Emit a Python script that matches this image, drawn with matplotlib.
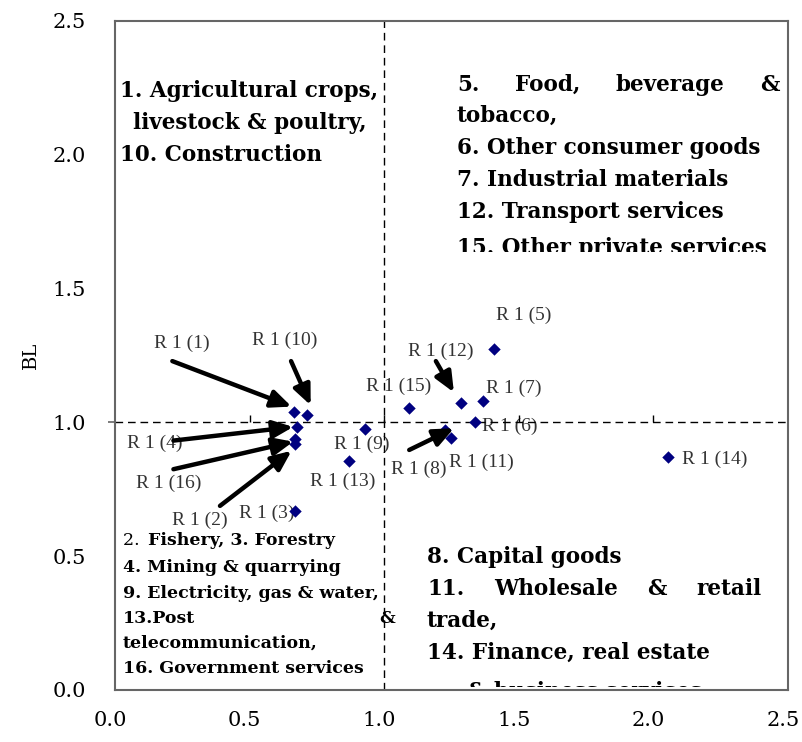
import matplotlib.pyplot as plt
import numpy as np
from matplotlib.patches import Rectangle
from matplotlib.transforms import Bbox, TransformedBbox, ScaledTranslation

# sector number, FL (x) and BL (y)
sectors = [1, 2, 3, 4, 5, 6, 7, 8, 9, 10, 11, 12, 13, 14, 15, 16]
fl = [0.665, 0.668, 0.668, 0.675, 1.408, 1.338, 1.368, 1.227,
      0.930, 0.714, 1.248, 1.286, 0.868, 2.054, 1.091, 0.668]
bl = [1.040, 0.919, 0.668, 0.982, 1.275, 1.000, 1.081, 0.972,
      0.974, 1.027, 0.942, 1.071, 0.856, 0.870, 1.053, 0.937]
ticks = [0.0, 0.5, 1.0, 1.5, 2.0, 2.5]

# where each "R1(n)" label sits (centre, data units)
lab_pos = {1: (0.248, 1.296), 2: (0.316, 0.633), 3: (0.564, 0.660),
           4: (0.149, 0.922), 5: (1.520, 1.399), 6: (1.467, 0.987),
           7: (1.480, 1.127), 8: (1.130, 0.826), 9: (0.916, 0.919),
           10: (0.632, 1.305), 11: (1.360, 0.851), 12: (1.211, 1.264),
           13: (0.846, 0.781), 14: (2.229, 0.862), 15: (1.055, 1.136),
           16: (0.201, 0.771)}
# arrows: tail, head
arrows = {1: ((0.213, 1.229), (0.656, 1.059)),
          10: ((0.654, 1.229), (0.727, 1.064)),
          4: ((0.217, 0.932), (0.662, 0.983)),
          16: ((0.217, 0.825), (0.662, 0.928)),
          2: ((0.390, 0.688), (0.656, 0.894)),
          12: ((1.192, 1.229), (1.259, 1.112)),
          8: ((1.093, 0.897), (1.259, 0.978))}

fig = plt.figure(figsize=(8.02, 7.42), dpi=100)
ax = fig.add_subplot(111)
fig.subplots_adjust(left=0.1434, right=0.9825, bottom=0.0701, top=0.9717)
ax.set_xlim(0, 2.5)
ax.set_ylim(0, 2.5)

for s in ax.spines.values():
    s.set_color('#666666')
    s.set_linewidth(1.5)
    s.set_zorder(10)

ax.set_xticks(ticks)
ax.set_yticks(ticks)
ax.set_xticklabels(['%.1f' % t for t in ticks])
ax.set_yticklabels(['%.1f' % t for t in ticks])
ax.tick_params(axis='x', length=0, pad=15, labelsize=15)
ax.tick_params(axis='y', length=0, pad=21, labelsize=15)
for lab in ax.get_xticklabels() + ax.get_yticklabels():
    lab.set_family('DejaVu Serif')
off = ScaledTranslation(-5 / 100., 0, fig.dpi_scale_trans)
for lab in ax.get_xticklabels():
    lab.set_transform(lab.get_transform() + off)
ax.set_ylabel('BL', family='DejaVu Serif', fontsize=14, labelpad=9)

# quadrant lines at 1.0
ax.axhline(1.0, color='k', lw=1, dashes=[5.5, 3.5], zorder=4)
ax.axvline(1.0, color='k', lw=1, dashes=[5.5, 3.5], zorder=4)
ax.plot(ticks[1:5], [1.0] * 4, ls='none', marker=2, ms=5, mew=1, color='k', zorder=4)
ax.plot([0], [1.0], ls='none', marker=0, ms=5, mew=1.2, color='#666666', clip_on=False)

ax.scatter(fl, bl, marker='D', s=40, color='#000080', zorder=6, linewidths=0)

for i, n in enumerate(sectors):
    lx, ly = lab_pos[n]
    ax.text(lx, ly, 'R 1 (%d)' % n, ha='center', va='center', fontsize=14,
            family='Liberation Serif', color='#333333', zorder=2)

for n, (tail, head) in arrows.items():
    ax.annotate('', xy=head, xytext=tail, zorder=7,
                arrowprops=dict(arrowstyle='-|>,head_length=0.8,head_width=0.35',
                                mutation_scale=15, lw=3.2, color='k',
                                shrinkA=0, shrinkB=0))

# white box behind the lower-left note
ax.add_patch(Rectangle((0, 0), 0.99, 0.598, facecolor='white', edgecolor='none', zorder=3))

big = dict(family='DejaVu Serif', weight='bold', fontsize=15.5, va='baseline', zorder=5)
small = dict(family='DejaVu Serif', weight='bold', fontsize=12.5, va='baseline', zorder=5)

renderer = fig.canvas.get_renderer()
inv = ax.transData.inverted()


def width_of(t):
    bb = t.get_window_extent(renderer)
    (a, _), (b, _) = inv.transform([[bb.x0, 0], [bb.x1, 0]])
    return b - a


def justify(words, x0, x1, y, clip=None, **kw):
    texts = [ax.text(x0, y, w, **kw) for w in words]
    widths = [width_of(t) for t in texts]
    gap = (x1 - x0 - sum(widths)) / (len(words) - 1)
    x = x0
    for t, w in zip(texts, widths):
        t.set_x(x)
        x += w + gap
        if clip is not None:
            t.set_clip_box(clip)
            t.set_clip_on(True)


def line(s, x, y, clip=None, **kw):
    t = ax.text(x, y, s, **kw)
    if clip is not None:
        t.set_clip_box(clip)
        t.set_clip_on(True)
    return t


# upper left
line('1. Agricultural crops,', 0.0186, 2.216, **big)
line('livestock & poultry,', 0.0669, 2.096, **big)
line('10. Construction', 0.0186, 1.977, **big)

# upper right
clip_ur = TransformedBbox(Bbox([[1.2, 1.636], [2.5, 2.5]]), ax.transData)
justify(['5.', 'Food,', 'beverage', '&'], 1.270, 2.470, 2.240, clip=clip_ur, **big)
line('tobacco,', 1.270, 2.123, clip=clip_ur, **big)
line('6. Other consumer goods', 1.270, 2.003, clip=clip_ur, **big)
line('7. Industrial materials', 1.270, 1.883, clip=clip_ur, **big)
line('12. Transport services', 1.270, 1.764, clip=clip_ur, **big)
line('15. Other private services', 1.270, 1.628, clip=clip_ur, **big)

# lower right
clip_lr = TransformedBbox(Bbox([[1.1, 0.012], [2.5, 0.6]]), ax.transData)
line('8. Capital goods', 1.159, 0.475, clip=clip_lr, **big)
justify(['11.', 'Wholesale', '&', 'retail'], 1.159, 2.403, 0.355, clip=clip_lr, **big)
line('trade,', 1.159, 0.235, clip=clip_lr, **big)
line('14. Finance, real estate', 1.159, 0.116, clip=clip_lr, **big)
line('& business services', 1.308, -0.030, clip=clip_lr, **big)

# lower left
t2 = line('2. ', 0.0297, 0.542, **dict(small, weight='normal'))
line('Fishery, 3. Forestry', 0.0297 + width_of(t2) + 0.01, 0.542, **small)
line('4. Mining & quarrying', 0.0297, 0.441, **small)
line('9. Electricity, gas & water,', 0.0297, 0.344, **small)
justify(['13.Post', '&'], 0.0297, 1.040, 0.250, **small)
line('telecommunication,', 0.0297, 0.157, **small)
line('16. Government services', 0.0297, 0.064, **small)

fig.savefig('out.png', dpi=100)
